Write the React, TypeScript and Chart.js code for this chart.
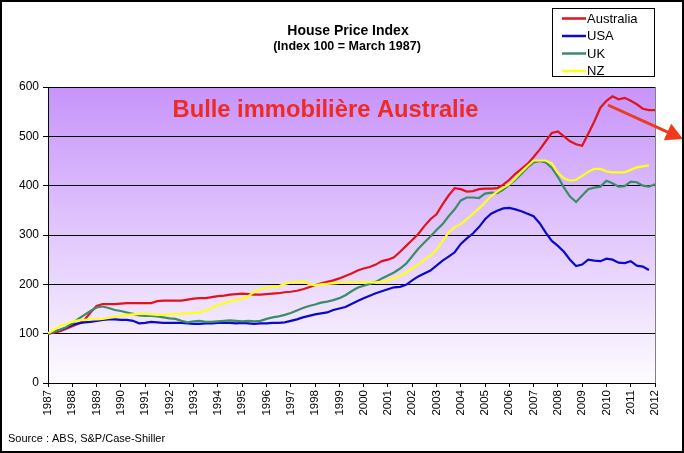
import React, { useEffect, useRef } from 'react';
import { Chart, registerables, Plugin } from 'chart.js';

Chart.register(...registerables);

const years = [
  '1987', '1988', '1989', '1990', '1991', '1992', '1993', '1994', '1995',
  '1996', '1997', '1998', '1999', '2000', '2001', '2002', '2003', '2004',
  '2005', '2006', '2007', '2008', '2009', '2010', '2011', '2012',
];

// quarterly points, only the first quarter carries the year label
const quarterLabels = years.flatMap((y, i) => (i < years.length - 1 ? [y, '', '', ''] : [y]));

const australia = [
  100, 102, 105, 110,
  115, 120, 128, 143,
  156, 160, 160, 160,
  161, 162, 162, 162,
  162, 162, 166, 167,
  167, 167, 167, 169,
  171, 172, 172, 174,
  176, 177, 179, 180,
  181, 180, 179, 179,
  180, 181, 182, 184,
  185, 187, 190, 194,
  198, 202, 205, 208,
  212, 217, 222, 228,
  232, 235, 240, 247,
  250, 255, 266, 278,
  290, 302, 318, 332,
  342, 362, 380, 395,
  393, 388, 389, 393,
  394, 394, 395, 402,
  412, 424, 434, 444,
  458, 473, 490, 507,
  510, 500, 490, 484,
  481, 505, 530, 558,
  572, 581, 575, 578,
  572, 565, 556, 553,
  553,
];

const usa = [
  100, 104, 108, 112,
  118, 121, 123, 124,
  126, 128, 129, 129,
  128, 128, 126, 121,
  122, 124, 123, 122,
  122, 122, 122, 121,
  120, 120, 121, 121,
  122, 122, 122, 121,
  122, 121, 120, 121,
  121, 122, 122, 123,
  126, 129, 133, 136,
  139, 141, 143, 148,
  151, 154, 160, 166,
  172, 177, 182, 186,
  190, 194, 195, 199,
  208, 216, 222, 228,
  238, 248, 256, 265,
  282, 293, 303, 316,
  332, 343, 349, 354,
  355, 352, 348, 343,
  338, 324, 305, 288,
  278, 266, 250, 237,
  240, 250, 248, 247,
  252, 250, 244, 243,
  247, 238, 236, 229,
  null,
];

const uk = [
  100, 104, 108, 113,
  121, 130, 138, 146,
  153, 155, 152, 148,
  146, 143, 140, 137,
  136, 136, 135, 133,
  131, 130, 126, 123,
  125, 126, 124, 124,
  125, 126, 127, 126,
  125, 126, 125, 126,
  130, 133, 135, 138,
  142, 147, 152, 156,
  159, 163, 165, 168,
  172, 178, 186, 193,
  197, 201, 205, 212,
  218, 224, 232, 242,
  257, 272, 285, 297,
  310, 322, 338, 352,
  370, 376, 376, 375,
  384, 386, 385, 392,
  402, 412, 424, 437,
  447, 450, 447, 436,
  418, 396, 378, 367,
  380, 393, 396, 398,
  410, 405, 398, 399,
  408, 407, 400, 398,
  403,
];

const nz = [
  101, 108, 116, 120,
  124, 127, 128, 129,
  129, 130, 132, 134,
  136, 138, 139, 140,
  140, 139, 138, 138,
  139, 140, 140, 141,
  142, 143, 147, 153,
  158, 162, 165, 168,
  171, 176, 185, 191,
  193, 195, 196, 201,
  204, 205, 206, 201,
  198, 200, 201, 202,
  203, 204, 204, 204,
  204, 204, 204, 205,
  208, 212, 217, 224,
  232, 240, 250, 258,
  270, 288, 305, 316,
  322, 332, 343, 354,
  366, 379, 388, 396,
  403, 415, 428, 440,
  451, 451, 451, 445,
  426, 415, 410, 412,
  420, 428, 434, 434,
  429, 427, 427, 427,
  432, 437, 439, 441,
  null,
];

const seriesNames = ['Australia', 'USA', 'UK', 'NZ'];
const seriesColors = ['#e3121b', '#0a0acb', '#3d8c68', '#ffff1a'];
const yTicks = [0, 100, 200, 300, 400, 500, 600];

const FONT = '"Liberation Sans", Arial, sans-serif';

// gradient background, titles, boxed legend, annotation and frame
const decorPlugin: Plugin<'line'> = {
  id: 'decor',
  beforeDraw(chart) {
    const { ctx, chartArea: a } = chart;
    ctx.save();
    ctx.fillStyle = '#ffffff';
    ctx.fillRect(0, 0, chart.width, chart.height);
    const g = ctx.createLinearGradient(0, a.top, 0, a.bottom);
    g.addColorStop(0, '#c794fa');
    g.addColorStop(1, '#fdfcff');
    ctx.fillStyle = g;
    ctx.fillRect(a.left, a.top, a.right - a.left, a.bottom - a.top);
    ctx.restore();
  },
  afterDraw(chart) {
    const { ctx, chartArea: a } = chart;
    ctx.save();

    // plot border on the right
    ctx.strokeStyle = '#808080';
    ctx.lineWidth = 1;
    ctx.beginPath();
    ctx.moveTo(a.right + 0.5, a.top);
    ctx.lineTo(a.right + 0.5, a.bottom);
    ctx.stroke();

    // titles
    ctx.fillStyle = '#000';
    ctx.textAlign = 'center';
    ctx.textBaseline = 'middle';
    ctx.font = `bold 14px ${FONT}`;
    ctx.fillText('House Price Index', 348, 31);
    ctx.font = `bold 12.5px ${FONT}`;
    ctx.fillText('(Index 100 = March 1987)', 347, 47);

    // legend box
    ctx.fillStyle = '#fff';
    ctx.fillRect(552.5, 8.5, 102, 68);
    ctx.strokeStyle = '#000';
    ctx.lineWidth = 1;
    ctx.strokeRect(552.5, 8.5, 102, 68);
    ctx.textAlign = 'left';
    ctx.font = `13px ${FONT}`;
    chart.data.datasets.forEach((ds, i) => {
      const y = 18.5 + i * 17.5;
      ctx.strokeStyle = ds.borderColor as string;
      ctx.lineWidth = 2.5;
      ctx.beginPath();
      ctx.moveTo(562, y);
      ctx.lineTo(586, y);
      ctx.stroke();
      ctx.fillStyle = '#000';
      ctx.fillText(ds.label ?? '', 587, y + 0.5);
    });

    // annotation text, stretched to the reference width
    const note = 'Bulle immobilière Australie';
    ctx.font = `bold 23px ${FONT}`;
    const w = ctx.measureText(note).width;
    ctx.save();
    ctx.translate(172.5, 116.5);
    ctx.scale(306 / w, 1);
    ctx.textBaseline = 'alphabetic';
    ctx.fillStyle = '#ee2a22';
    ctx.fillText(note, 0, 0);
    ctx.restore();

    // arrow
    const x0 = 608, y0 = 105, tx = 683, ty = 139;
    const len = Math.hypot(tx - x0, ty - y0);
    const ux = (tx - x0) / len, uy = (ty - y0) / len;
    const bx = tx - 17 * ux, by = ty - 17 * uy;
    ctx.strokeStyle = '#ef3a1d';
    ctx.fillStyle = '#ef3a1d';
    ctx.lineWidth = 3;
    ctx.beginPath();
    ctx.moveTo(x0, y0);
    ctx.lineTo(bx + 2 * ux, by + 2 * uy);
    ctx.stroke();
    ctx.beginPath();
    ctx.moveTo(tx, ty);
    ctx.lineTo(bx - 9 * uy, by + 9 * ux);
    ctx.lineTo(bx + 9 * uy, by - 9 * ux);
    ctx.closePath();
    ctx.fill();

    // source
    ctx.fillStyle = '#000';
    ctx.font = `11px ${FONT}`;
    ctx.textBaseline = 'middle';
    ctx.fillText('Source : ABS, S&P/Case-Shiller', 8, 439);

    // outer frame
    ctx.strokeStyle = '#000';
    ctx.lineWidth = 2;
    ctx.strokeRect(1, 1, chart.width - 2, chart.height - 2);
    ctx.restore();
  },
};

const App = () => {
  const chartRef = useRef<HTMLCanvasElement>(null);
  const chartInstance = useRef<Chart | null>(null);

  useEffect(() => {
    if (!chartRef.current) return;
    const ctx = chartRef.current.getContext('2d');
    if (!ctx) return;

    if (chartInstance.current) {
      chartInstance.current.destroy();
    }

    const values = [australia, usa, uk, nz];

    chartInstance.current = new Chart(ctx, {
      type: 'line',
      data: {
        labels: quarterLabels,
        datasets: seriesNames.map((name, i) => ({
          label: name,
          data: values[i],
          borderColor: seriesColors[i],
          backgroundColor: seriesColors[i],
          borderWidth: 2.2,
          pointRadius: 0,
          tension: 0,
          fill: false,
          order: 4 - i, // later series on top, as in the original
        })),
      },
      options: {
        responsive: false,
        animation: false,
        events: [],
        layout: { padding: { left: 0, top: 87, right: 29, bottom: 0 } },
        plugins: {
          legend: { display: false },
          tooltip: { enabled: false },
          title: { display: false },
        },
        scales: {
          x: {
            type: 'category',
            offset: false,
            afterFit: (scale) => {
              scale.height = 70;
            },
            grid: {
              drawOnChartArea: false,
              tickLength: 4,
              color: (c) => (quarterLabels[c.index] ? '#000' : 'rgba(0,0,0,0)'),
            },
            border: { color: '#000', width: 1 },
            ticks: {
              autoSkip: false,
              maxRotation: 90,
              minRotation: 90,
              padding: 3,
              color: '#000',
              font: { family: FONT, size: 11.5 },
            },
          },
          y: {
            min: 0,
            max: 600,
            afterFit: (scale) => {
              scale.width = 48;
            },
            afterBuildTicks: (scale) => {
              scale.ticks = yTicks.map((v) => ({ value: v }));
            },
            grid: { color: '#000', lineWidth: 1, tickLength: 5 },
            border: { color: '#000', width: 1 },
            ticks: {
              padding: 4,
              color: '#000',
              font: { family: FONT, size: 12 },
            },
          },
        },
      },
      plugins: [decorPlugin],
    });

    return () => {
      if (chartInstance.current) {
        chartInstance.current.destroy();
        chartInstance.current = null;
      }
    };
  }, []);

  return (
    <div style={{ position: 'fixed', left: 0, top: 0, width: 684, height: 453, background: '#fff' }}>
      <canvas ref={chartRef} width={684} height={453} style={{ display: 'block' }} />
    </div>
  );
};

export default App;
